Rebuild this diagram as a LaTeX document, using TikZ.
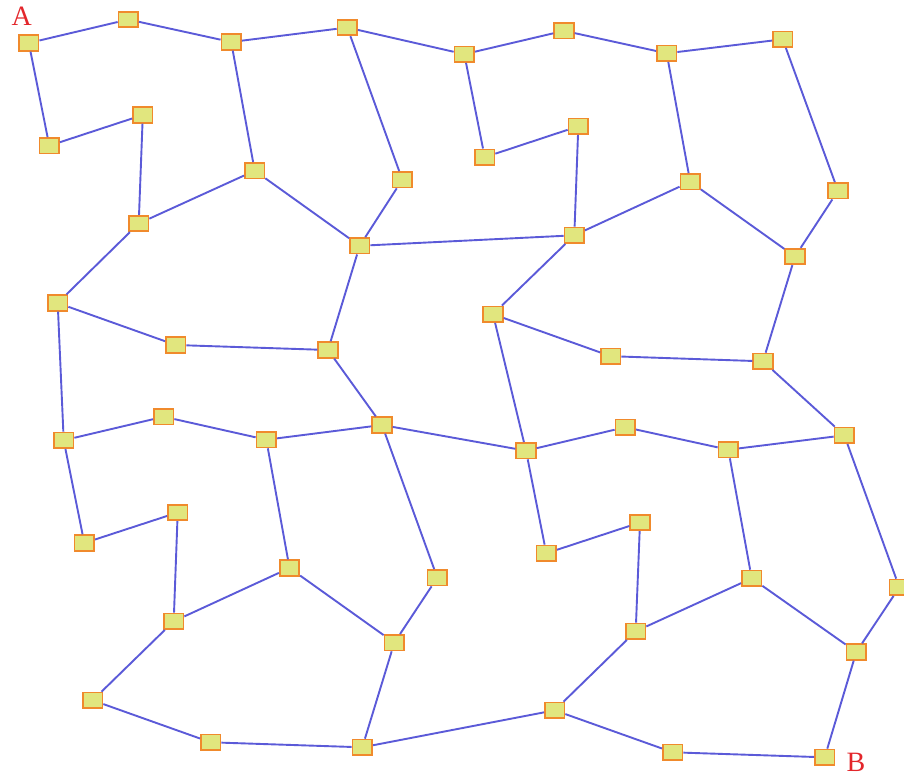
\documentclass[tikz,border=0pt]{standalone}
\usepackage{fontspec}
\setmainfont{Liberation Serif}
\usepackage{tikz}
\usetikzlibrary{positioning}
\definecolor{boxfill}{HTML}{E1E67E}
\definecolor{boxline}{HTML}{F08A2C}
\definecolor{linkblue}{HTML}{5B5AD8}
\definecolor{labelred}{HTML}{E3262B}
\tikzset{
  box/.style={draw=boxline, fill=boxfill, line width=1.8pt, minimum width=19.5pt, minimum height=15.5pt, inner sep=0pt},
  link/.style={linkblue, line width=1.9pt},
  endlabel/.style={text=labelred, font=\fontsize{28}{30}\selectfont, inner sep=0pt}
}

\begin{document}
\begin{tikzpicture}[x=1pt, y=-1pt]
  \useasboundingbox (0,0) rectangle (904,778);
  % nodes
  \foreach \n/\x/\y in {1/28.8/43, 2/128.3/19.5, 3/231.2/42, 4/347.3/27.5, 5/464.3/54.2, 6/564/30.8, 7/666.7/53.3, 8/782.7/39.3,
      9/49.3/145.7, 10/142.8/115, 11/254.7/170.7, 12/402.3/179.7, 13/484.7/157.2, 14/578.3/126.3, 15/690.2/181.8, 16/838/190.8,
      17/138.7/223.5, 18/359.7/245.8, 19/574.3/235.3, 20/795/256.5,
      21/57.7/303, 22/493/314.2, 23/175.7/345, 24/328/350, 25/610.8/356.2, 26/763/361.3,
      27/63.7/440.3, 28/163.7/416.7, 29/266.3/439.7, 30/382/425, 31/526/450.7, 32/625.3/427.2, 33/728.3/449.7, 34/844.3/435.3,
      35/84.3/543, 36/177.7/512.5, 37/289.5/568, 38/437.3/577.7, 39/546.3/553.3, 40/640/522.5, 41/751.7/578.3, 42/899.3/587.3,
      43/173.7/621.3, 44/394.3/642.7, 45/635.7/631.3, 46/856.3/652,
      47/92.7/700.3, 48/554.7/710.3, 49/210.7/742.3, 50/362.3/747.3, 51/672.7/752.3, 52/824.7/757.3}
    {\node[box] (n\n) at (\x,\y) {};}
  % connections
  \foreach \a/\b in {1/2, 2/3, 3/4, 4/5, 5/6, 6/7, 7/8, 1/9, 9/10, 10/17, 3/11, 11/17, 11/18, 4/12, 12/18,
      5/13, 13/14, 14/19, 18/19, 19/15, 7/15, 15/20, 8/16, 16/20, 17/21, 21/23, 23/24, 18/24, 19/22, 22/25, 25/26, 20/26,
      21/27, 22/31, 24/30, 26/34, 27/28, 28/29, 29/30, 30/31, 31/32, 32/33, 33/34,
      27/35, 35/36, 36/43, 29/37, 37/43, 37/44, 30/38, 38/44, 31/39, 39/40, 40/45, 33/41, 41/45, 41/46, 34/42, 42/46,
      43/47, 47/49, 49/50, 44/50, 50/48, 45/48, 48/51, 51/52, 46/52}
    {\draw[link] (n\a) -- (n\b);}
  % end points
  \node[endlabel] (lblA) at (21.7,16.5) {A};
  \node[endlabel] (lblB) at (856,762.5) {B};
\end{tikzpicture}
\end{document}
